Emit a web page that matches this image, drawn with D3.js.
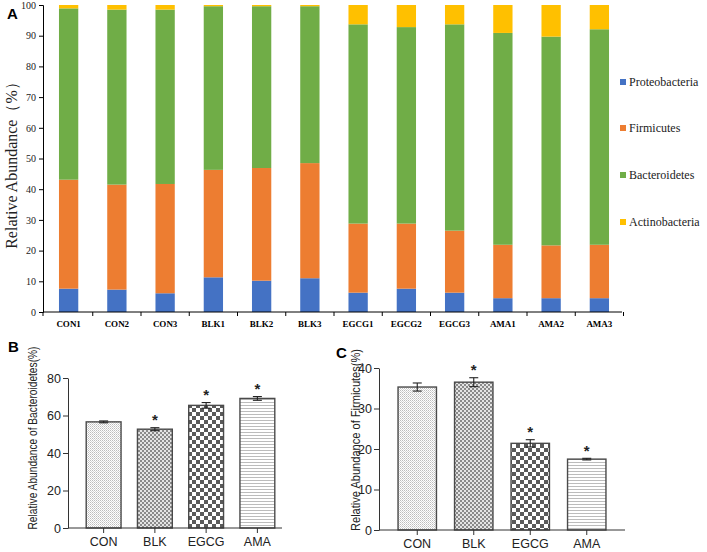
<!DOCTYPE html>
<html>
<head>
<meta charset="utf-8">
<script src="https://cdn.jsdelivr.net/npm/d3@7"></script>
<style>
  html, body { margin: 0; padding: 0; background: #fff; }
  svg { display: block; }
  .serif { font-family: "Liberation Serif", "Times New Roman", Times, serif; }
  .sans { font-family: "Liberation Sans", Arial, Helvetica, sans-serif; }
</style>
</head>
<body>
<svg id="chart" width="707" height="552"></svg>
<script>
// ---------- Panel A data ----------
const samples = ["CON1","CON2","CON3","BLK1","BLK2","BLK3","EGCG1","EGCG2","EGCG3","AMA1","AMA2","AMA3"];
const phyla = ["Proteobacteria","Firmicutes","Bacteroidetes","Actinobacteria"];
const proteobacteria = [7.6, 7.3, 6.1, 11.3, 10.2, 11.0, 6.3, 7.6, 6.3, 4.5, 4.5, 4.5];
const firmicutes     = [35.5, 34.2, 35.6, 35.0, 36.7, 37.5, 22.5, 21.2, 20.2, 17.4, 17.2, 17.4];
const bacteroidetes  = [55.8, 57.0, 56.8, 53.3, 52.7, 51.1, 64.9, 64.0, 67.2, 69.0, 68.0, 70.2];
const actinobacteria = [1.1, 1.5, 1.5, 0.4, 0.4, 0.4, 6.3, 7.2, 6.3, 9.1, 10.3, 7.9];
const phylumColors = ["#4472C4","#ED7D31","#70AD47","#FFC000"];
const yTicksA = [0,10,20,30,40,50,60,70,80,90,100];

// ---------- Panels B & C data ----------
const groups = ["CON","BLK","EGCG","AMA"];
const bacteroidetesMean = [56.6, 52.7, 65.4, 69.1];
const bacteroidetesErr  = [0.5, 0.8, 1.5, 1.0];
const bacteroidetesSig  = [false, true, true, true];
const firmicutesMean = [35.3, 36.5, 21.4, 17.5];
const firmicutesErr  = [1.0, 1.1, 0.9, 0.2];
const firmicutesSig  = [false, true, true, true];
const yTicksB = [0,20,40,60,80];
const yTicksC = [0,10,20,30,40];

const svg = d3.select("#chart");

// ---------- patterns ----------
const defs = svg.append("defs");
function pat(id, w, h, bg, draw) {
  const p = defs.append("pattern").attr("id", id).attr("patternUnits","userSpaceOnUse")
    .attr("width", w).attr("height", h);
  p.append("rect").attr("width", w).attr("height", h).attr("fill", bg);
  draw(p);
}
pat("pCON", 2, 2, "#ffffff", p => {
  p.append("rect").attr("x",0).attr("y",0).attr("width",1).attr("height",1).attr("fill","#bdbdbd");
  p.append("rect").attr("x",1).attr("y",1).attr("width",1).attr("height",1).attr("fill","#d6d6d6");
});
pat("pBLK", 4, 4, "#e4e4e4", p => {
  p.append("rect").attr("x",0).attr("y",0).attr("width",2).attr("height",2).attr("fill","#8a8a8a");
  p.append("rect").attr("x",2).attr("y",2).attr("width",2).attr("height",2).attr("fill","#8a8a8a");
});
pat("pEGCG", 8, 8, "#ffffff", p => {
  p.append("rect").attr("x",0).attr("y",0).attr("width",4).attr("height",4).attr("fill","#5a5a5a");
  p.append("rect").attr("x",4).attr("y",4).attr("width",4).attr("height",4).attr("fill","#5a5a5a");
});
pat("pAMA", 4, 3, "#ffffff", p => {
  p.append("rect").attr("x",0).attr("y",0).attr("width",4).attr("height",1).attr("fill","#bcbcbc");
});
const groupPatterns = ["url(#pCON)","url(#pBLK)","url(#pEGCG)","url(#pAMA)"];

// ================= Panel A =================
{
  const left = 43, right = 622, top = 5, bottom = 312;
  const x = d3.scaleBand().domain(samples).range([left + 1.5, right + 1.5]).paddingInner(0.6).paddingOuter(0.3);
  const y = d3.scaleLinear().domain([0,100]).range([bottom, top]);
  const color = d3.scaleOrdinal().domain(phyla).range(phylumColors);

  const rows = samples.map((s,i) => ({
    sample: s,
    Proteobacteria: proteobacteria[i],
    Firmicutes: firmicutes[i],
    Bacteroidetes: bacteroidetes[i],
    Actinobacteria: actinobacteria[i]
  }));
  const stacked = d3.stack().keys(phyla)(rows);
  const g = svg.append("g");
  g.selectAll("g.layer").data(stacked).join("g")
    .attr("fill", d => color(d.key))
    .selectAll("rect").data(d => d).join("rect")
    .attr("x", d => x(d.data.sample))
    .attr("width", x.bandwidth())
    .attr("y", d => y(Math.min(100, d[1])))
    .attr("height", d => y(d[0]) - y(Math.min(100, d[1])));

  // y axis
  const ya = svg.append("g").attr("transform", `translate(${left},0)`)
    .call(d3.axisLeft(y).tickValues(yTicksA).tickSize(4).tickPadding(3));
  ya.attr("font-family", null).attr("font-size", null);
  ya.select(".domain").attr("stroke","#000");
  ya.selectAll("text").attr("class","serif").style("font-size","10px").attr("fill","#222");

  // x axis (line + boundary ticks + labels)
  const step = x.step();
  const xa = svg.append("g");
  xa.append("line").attr("x1", left).attr("x2", right).attr("y1", bottom).attr("y2", bottom).attr("stroke","#000");
  const bounds = [left].concat(samples.map(s => x(s) + x.bandwidth()/2 + step/2));
  xa.selectAll("line.tk").data(bounds).join("line").attr("class","tk")
    .attr("x1", d => d).attr("x2", d => d).attr("y1", bottom).attr("y2", bottom + 4).attr("stroke","#000");
  xa.selectAll("text").data(samples).join("text")
    .attr("class","serif")
    .attr("x", d => x(d) + x.bandwidth()/2)
    .attr("y", bottom + 15)
    .attr("text-anchor","middle")
    .style("font-weight","bold").style("font-size","9px")
    .text(d => d);

  // y title
  svg.append("text")
    .attr("class","serif")
    .attr("transform", `translate(17,${(top+bottom)/2 + 3}) rotate(-90)`)
    .attr("text-anchor","middle")
    .style("font-size","16px").attr("fill","#222")
    .text("Relative Abundance（%）");

  // legend
  const legY = [82, 128, 175, 222];
  const lg = svg.append("g");
  phyla.forEach((p,i) => {
    lg.append("rect").attr("x", 620).attr("y", legY[i]-3).attr("width", 6).attr("height", 6).attr("fill", phylumColors[i]);
    lg.append("text").attr("class","serif").attr("x", 629).attr("y", legY[i]+4).style("font-size","12px").attr("fill","#222").text(p);
  });

  svg.append("text").attr("class","sans").attr("x", 7).attr("y", 19).style("font-weight","bold").style("font-size","15px").text("A");
}

// ================= Panels B & C =================
function drawGroupPanel(opts) {
  const { left, axisRight, barLeft, barRight, top, bottom, yMax, ticks, means, errs, sig, title, titleX, titleY, titleLen, letter, letterX, letterY } = opts;
  const x = d3.scaleBand().domain(groups).range([barLeft, barRight]).paddingInner(0.32).paddingOuter(0.16);
  const y = d3.scaleLinear().domain([0, yMax]).range([bottom, top]);
  const g = svg.append("g");
  const data = groups.map((gname,i) => ({ g: gname, m: means[i], e: errs[i], s: sig[i], p: groupPatterns[i] }));

  g.selectAll("rect.bar").data(data).join("rect").attr("class","bar")
    .attr("x", d => x(d.g)).attr("width", x.bandwidth())
    .attr("y", d => y(d.m)).attr("height", d => y(0) - y(d.m))
    .attr("fill", d => d.p).attr("stroke", "#4a4a4a").attr("stroke-width", 1.4);

  const capW = 9;
  data.forEach(d => {
    const cx = x(d.g) + x.bandwidth()/2;
    g.append("line").attr("x1", cx).attr("x2", cx).attr("y1", y(d.m - d.e)).attr("y2", y(d.m + d.e)).attr("stroke","#222").attr("stroke-width",1.1);
    [d.m - d.e, d.m + d.e].forEach(v => {
      g.append("line").attr("x1", cx - capW/2).attr("x2", cx + capW/2).attr("y1", y(v)).attr("y2", y(v)).attr("stroke","#222").attr("stroke-width",1.1);
    });
    if (d.s) {
      g.append("text").attr("class","sans").attr("x", cx).attr("y", y(d.m + d.e) - 11 + 8.5)
        .attr("text-anchor","middle").style("font-size","15px").style("font-weight","bold").attr("fill","#222").text("*");
    }
  });

  // y axis
  const ya = svg.append("g").attr("transform", `translate(${left},0)`)
    .call(d3.axisLeft(y).tickValues(ticks).tickSize(5).tickPadding(2).tickSizeOuter(0));
  ya.attr("font-family", null).attr("font-size", null);
  ya.select(".domain").attr("stroke","#333");
  ya.selectAll(".tick line").attr("stroke","#333");
  ya.selectAll("text").attr("class","sans").style("font-size","12.5px").attr("fill","#222");

  // x axis
  const xa = svg.append("g").attr("transform", `translate(0,${bottom})`);
  xa.append("line").attr("x1", left).attr("x2", axisRight).attr("y1", 0).attr("y2", 0).attr("stroke","#333");
  data.forEach(d => {
    const cx = x(d.g) + x.bandwidth()/2;
    xa.append("line").attr("x1", cx).attr("x2", cx).attr("y1", 0).attr("y2", 5).attr("stroke","#333");
    xa.append("text").attr("class","sans").attr("x", cx).attr("y", 18).attr("text-anchor","middle")
      .style("font-size","12.5px").attr("fill","#222").text(d.g);
  });

  svg.append("text").attr("class","sans").attr("transform", `translate(${titleX},${titleY}) rotate(-90)`)
    .attr("text-anchor","middle").style("font-size","12.5px").attr("fill","#222")
    .attr("textLength", titleLen).attr("lengthAdjust","spacingAndGlyphs")
    .text(title);

  svg.append("text").attr("class","sans").attr("x", letterX).attr("y", letterY).style("font-weight","bold").style("font-size","15px").text(letter);
}

drawGroupPanel({
  left: 68, axisRight: 282, barLeft: 78, barRight: 283, top: 378, bottom: 528, yMax: 80,
  ticks: yTicksB, means: bacteroidetesMean, errs: bacteroidetesErr, sig: bacteroidetesSig,
  title: "Relative Abundance of Bacteroidetes(%)", titleX: 37, titleY: 438, titleLen: 183,
  letter: "B", letterX: 8, letterY: 352
});
drawGroupPanel({
  left: 379, axisRight: 625, barLeft: 389, barRight: 615, top: 368, bottom: 530, yMax: 40,
  ticks: yTicksC, means: firmicutesMean, errs: firmicutesErr, sig: firmicutesSig,
  title: "Relative Abundance of Firmicutes(%)", titleX: 360, titleY: 440, titleLen: 182,
  letter: "C", letterX: 336, letterY: 358
});
</script>
</body>
</html>
